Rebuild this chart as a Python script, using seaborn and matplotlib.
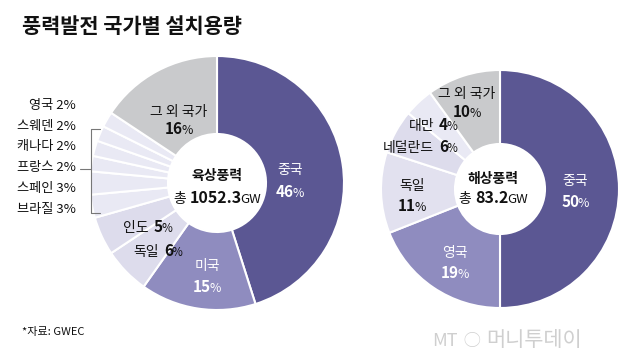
import matplotlib
matplotlib.use("Agg")
import matplotlib.pyplot as plt
import seaborn as sns

# data
onshore_labels = ['중국', '미국', '독일', '인도', '브라질', '스페인', '프랑스', '캐나다', '스웨덴', '영국', '그 외 국가']
onshore_share = [46, 15, 6, 5, 3, 3, 2, 2, 2, 2, 16]
onshore_total = '1052.3'

offshore_labels = ['중국', '영국', '독일', '네덜란드', '대만', '그 외 국가']
offshore_share = [50, 19, 11, 6, 4, 10]
offshore_total = '83.2'

sns.set_theme(style='white')
plt.rcParams['font.family'] = ['Noto Sans CJK KR', 'DejaVu Sans']

DARK = '#5b5793'
MID = '#8f8cbf'
LIGHT = '#dddcec'
PALE = '#e9e9f4'
GRAY = '#c9cacc'

onshore_colors = [DARK, MID, LIGHT, LIGHT] + [PALE] * 6 + [GRAY]
offshore_colors = [DARK, MID, '#e2e1ef', LIGHT, PALE, GRAY]

fig = plt.figure(figsize=(6.4, 3.64), dpi=100)
ax = fig.add_axes([0, 0, 1, 1])
H = 364


def Y(y):
    # pixel row (from top) to data y
    return H - y


wedge_style = dict(edgecolor='white', linewidth=1.5)
ax.pie(onshore_share, colors=onshore_colors, startangle=90, counterclock=False,
       center=(217, Y(183)), radius=127, wedgeprops=dict(width=78, **wedge_style))
ax.pie(offshore_share, colors=offshore_colors, startangle=90, counterclock=False,
       center=(500, Y(189)), radius=119, wedgeprops=dict(width=74, **wedge_style))
ax.set_xlim(0, 640)
ax.set_ylim(0, H)
ax.set_aspect('equal')
ax.axis('off')

renderer = fig.canvas.get_renderer()


def rich(x, y, pieces, color='#111111', ha='center'):
    # pieces: list of (text, size, weight, gap after in px); laid out side by side
    objs = []
    for s, size, weight, gap in pieces:
        t = ax.text(0, Y(y), s, fontsize=size, color=color, fontweight=weight,
                    ha='left', va='baseline')
        objs.append((t, gap))
    widths = [t.get_window_extent(renderer).width + g for t, g in objs]
    total = sum(widths) - objs[-1][1]
    if ha == 'center':
        x0 = x - total / 2
    elif ha == 'right':
        x0 = x - total
    else:
        x0 = x
    for (t, g), w in zip(objs, widths):
        t.set_x(x0)
        x0 += w


def txt(x, y, s, size=10, color='#111111', weight='medium', ha='center'):
    rich(x, y, [(s, size, weight, 0)], color=color, ha=ha)


def pct(x, y, v, color='#111111', size=11, ha='center'):
    rich(x, y, [(str(v), size, 'bold', -1.5), ('%', size * 0.8, 'medium', 0)], color=color, ha=ha)


def name_pct(x, y, name, v, size=10, ha='center'):
    rich(x, y, [(name, size, 'medium', 5), (str(v), size + 1, 'bold', -1.5),
                ('%', size * 0.85, 'medium', 0)], ha=ha)


def total_text(x, y, value):
    rich(x, y, [('총', 10, 'medium', 4), (value, 11.5, 'bold', -1.5), ('GW', 9.5, 'medium', 0)])


# title and footer
txt(22, 33, '풍력발전 국가별 설치용량', size=15, weight='bold', ha='left')
txt(22, 335, '*자료: GWEC', size=8, ha='left')
rich(432, 346, [('MT', 13, 'light', 6), ('◯', 12, 'light', 6), ('머니투데이', 15, 'light', 0)],
     color='#cfcfcf', ha='left')

# onshore labels inside the ring
on = dict(zip(onshore_labels, onshore_share))
txt(290, 174, '중국', color='white')
pct(290, 197, on['중국'], color='white')
txt(207, 270, '미국', color='white')
pct(207, 292, on['미국'], color='white')
txt(179, 116, '그 외 국가')
pct(179, 134, on['그 외 국가'])
name_pct(148, 232, '인도', on['인도'])
name_pct(158, 256, '독일', on['독일'])
txt(217, 180, '육상풍력', weight='bold')
total_text(217, 203, onshore_total)

# small countries listed on the left with a bracket
small = ['영국', '스웨덴', '캐나다', '프랑스', '스페인', '브라질']
for i, n in enumerate(small):
    txt(76, 109 + i * 20.7, f'{n} {on[n]}%', size=9.5, ha='right')
ax.plot([100, 91, 91, 100], [Y(129), Y(129), Y(213), Y(213)], color='#777777', lw=0.8)
ax.plot([80, 91], [Y(169), Y(169)], color='#777777', lw=0.8)

# offshore labels
off = dict(zip(offshore_labels, offshore_share))
txt(575, 185, '중국', color='white')
pct(575, 207, off['중국'], color='white')
txt(455, 257, '영국', color='white')
pct(455, 278, off['영국'], color='white')
txt(412, 190, '독일')
pct(412, 211, off['독일'])
name_pct(420, 152, '네덜란드', off['네덜란드'])
name_pct(433, 130, '대만', off['대만'])
txt(467, 98, '그 외 국가')
pct(467, 117, off['그 외 국가'])
txt(493, 183, '해상풍력', weight='bold')
total_text(493, 203, offshore_total)

fig.savefig('out.png', dpi=100, facecolor='white')
